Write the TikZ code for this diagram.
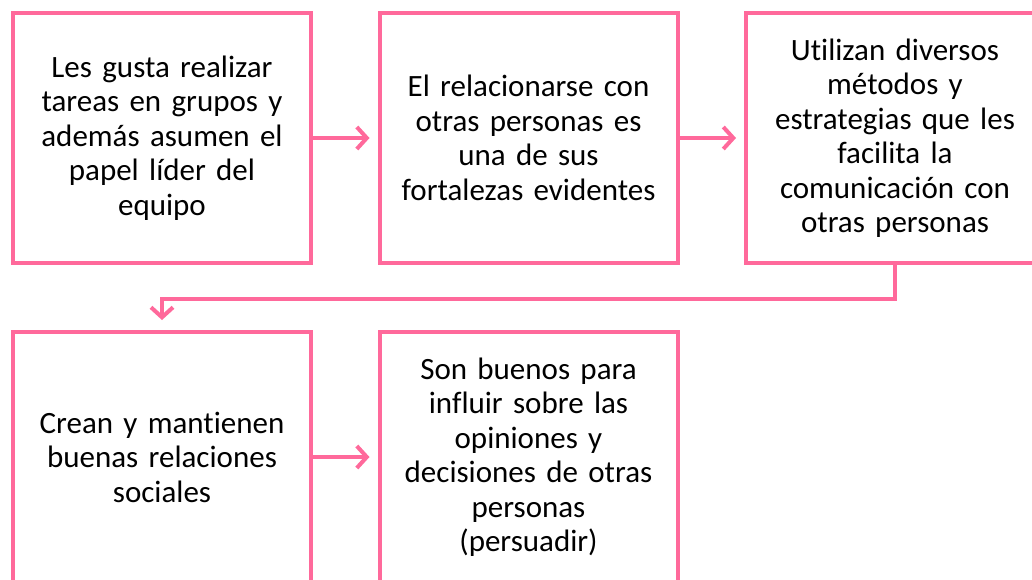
\documentclass[tikz,border=0pt]{standalone}
\usepackage{fontspec}
\setmainfont{Carlito}[Ligatures={NoCommon,NoRare}]
\usetikzlibrary{arrows.meta,positioning}
\definecolor{rosa}{RGB}{255,105,155}
\begin{document}
\begin{tikzpicture}[x=1pt, y=-1pt]
		\tikzset{box/.style={draw=rosa, line width=4pt, fill=white, minimum width=298pt, minimum height=250pt, text width=290pt, align=center, inner sep=0pt, font=\fontsize{31}{34.5}\selectfont}}
		\tikzset{ar/.style={-{Straight Barb[length=10pt,width=22pt,line width=4pt]}, draw=rosa, line width=4pt, shorten >=8pt}}
		\useasboundingbox (0,0) rectangle (1032,579);
		\clip (0,0) rectangle (1032,579);
		\node[box] at (162, 138) (a) {Les gusta realizar\\tareas en grupos y\\además asumen el\\papel líder del\\equipo};
		\node[box] at (528.5, 138) (b) {El relacionarse con\\otras personas es\\una de sus\\fortalezas evidentes};
		\node[box] at (895, 138) (c) {Utilizan diversos\\métodos y\\estrategias que les\\facilita la\\comunicación con\\otras personas};
		\node[box] at (162, 457) (d) {Crean y mantienen\\buenas relaciones\\sociales};
		\node[box] at (528.5, 457) (e) {Son buenos para\\influir sobre las\\opiniones y\\decisiones de otras\\personas\\(persuadir)};
		\draw[ar] (a) -- (b);
		\draw[ar] (b) -- (c);
		\draw[ar, shorten >=10pt] (c.south) -- ++(0,34) -| (d.north);
		\draw[ar] (d) -- (e);
	\end{tikzpicture}
\end{document}
